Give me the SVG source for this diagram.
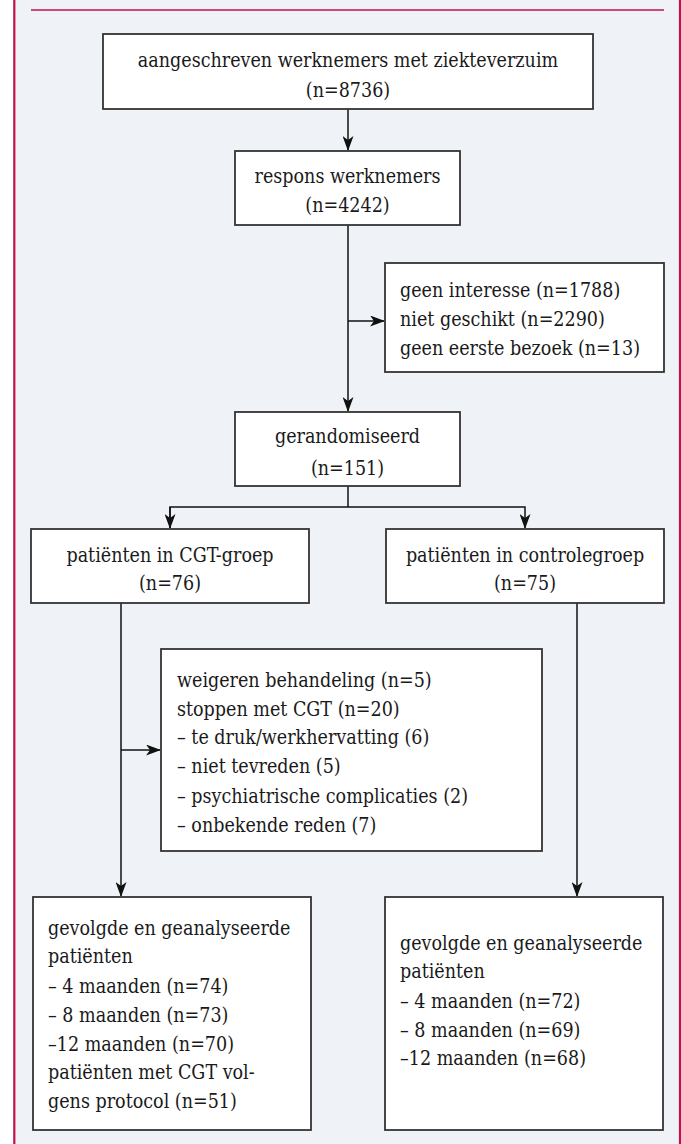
<svg xmlns="http://www.w3.org/2000/svg" width="681" height="1144" viewBox="0 0 681 1144">
  <style>
    .box { fill: #ffffff; stroke: #333333; stroke-width: 1.8; }
    .t { font-family: "DejaVu Serif Condensed", "DejaVu Serif", "Liberation Serif", serif; font-stretch: condensed; font-size: 19.5px; fill: #1a1a1a; }
    .c { text-anchor: middle; }
    .ln { fill: none; stroke: #111111; stroke-width: 1.5; }
  </style>
  <defs>
    <marker id="ah" viewBox="0 0 15 11" refX="14" refY="5.5" markerWidth="15" markerHeight="11" markerUnits="userSpaceOnUse" orient="auto">
      <path d="M0,0 L15,5.5 L0,11 L4,5.5 Z" fill="#111111"/>
    </marker>
  </defs>
  <rect x="0" y="0" width="681" height="1144" fill="#ffffff"/>
  <rect x="14" y="0" width="667" height="1144" fill="#eff3f7"/>
  <line x1="14.3" y1="0" x2="14.3" y2="1144" stroke="#c0104e" stroke-width="2.2"/>
  <line x1="680" y1="0" x2="680" y2="1144" stroke="#c0104e" stroke-width="2.2"/>
  <line x1="31" y1="10" x2="664" y2="10" stroke="#c0104e" stroke-width="1.5"/>

  <g id="connectors">
    <line class="ln" x1="348" y1="109" x2="348" y2="150" marker-end="url(#ah)"/>
    <line class="ln" x1="348" y1="225" x2="348" y2="411" marker-end="url(#ah)"/>
    <line class="ln" x1="348" y1="321" x2="384" y2="321" marker-end="url(#ah)"/>
    <polyline class="ln" points="348,486 348,507"/>
    <polyline class="ln" points="170,528 170,507 525,507 525,528" marker-end="url(#ah)"/>
    <line class="ln" x1="170" y1="507" x2="170" y2="528" marker-end="url(#ah)"/>
    <line class="ln" x1="121" y1="603" x2="121" y2="896" marker-end="url(#ah)"/>
    <line class="ln" x1="121" y1="750" x2="160" y2="750" marker-end="url(#ah)"/>
    <line class="ln" x1="577" y1="603" x2="577" y2="896" marker-end="url(#ah)"/>
  </g>

  <g id="n1">
    <rect class="box" x="103" y="34" width="490" height="75"/>
    <text class="t c" x="348" y="67">aangeschreven werknemers met ziekteverzuim</text>
    <text class="t c" x="348" y="97">(n=8736)</text>
  </g>
  <g id="n2">
    <rect class="box" x="235" y="151" width="225" height="74"/>
    <text class="t c" x="347.5" y="183">respons werknemers</text>
    <text class="t c" x="347.5" y="212">(n=4242)</text>
  </g>
  <g id="excl1">
    <rect class="box" x="385" y="263" width="279" height="109"/>
    <text class="t" x="400" y="297">geen interesse (n=1788)</text>
    <text class="t" x="400" y="326">niet geschikt (n=2290)</text>
    <text class="t" x="400" y="355">geen eerste bezoek (n=13)</text>
  </g>
  <g id="n3">
    <rect class="box" x="235" y="412" width="225" height="74"/>
    <text class="t c" x="347.5" y="443">gerandomiseerd</text>
    <text class="t c" x="347.5" y="475">(n=151)</text>
  </g>
  <g id="cgt">
    <rect class="box" x="31" y="529" width="278" height="74"/>
    <text class="t c" x="170" y="562">patiënten in CGT-groep</text>
    <text class="t c" x="170" y="590">(n=76)</text>
  </g>
  <g id="control">
    <rect class="box" x="386" y="529" width="278" height="74"/>
    <text class="t c" x="525" y="562">patiënten in controlegroep</text>
    <text class="t c" x="525" y="590">(n=75)</text>
  </g>
  <g id="excl2">
    <rect class="box" x="161" y="649" width="381" height="202"/>
    <text class="t" x="177" y="687">weigeren behandeling (n=5)</text>
    <text class="t" x="177" y="716">stoppen met CGT (n=20)</text>
    <text class="t" x="177" y="744">– te druk/werkhervatting (6)</text>
    <text class="t" x="177" y="773">– niet tevreden (5)</text>
    <text class="t" x="177" y="803">– psychiatrische complicaties (2)</text>
    <text class="t" x="177" y="832">– onbekende reden (7)</text>
  </g>
  <g id="final-cgt">
    <rect class="box" x="33" y="897" width="278" height="233"/>
    <text class="t" x="48" y="935">gevolgde en geanalyseerde</text>
    <text class="t" x="48" y="963">patiënten</text>
    <text class="t" x="48" y="993">– 4 maanden (n=74)</text>
    <text class="t" x="48" y="1022">– 8 maanden (n=73)</text>
    <text class="t" x="48" y="1051">–12 maanden (n=70)</text>
    <text class="t" x="48" y="1079">patiënten met CGT vol-</text>
    <text class="t" x="48" y="1108">gens protocol (n=51)</text>
  </g>
  <g id="final-control">
    <rect class="box" x="385" y="897" width="278" height="233"/>
    <text class="t" x="400" y="950">gevolgde en geanalyseerde</text>
    <text class="t" x="400" y="978">patiënten</text>
    <text class="t" x="400" y="1008">– 4 maanden (n=72)</text>
    <text class="t" x="400" y="1037">– 8 maanden (n=69)</text>
    <text class="t" x="400" y="1065">–12 maanden (n=68)</text>
  </g>
</svg>
